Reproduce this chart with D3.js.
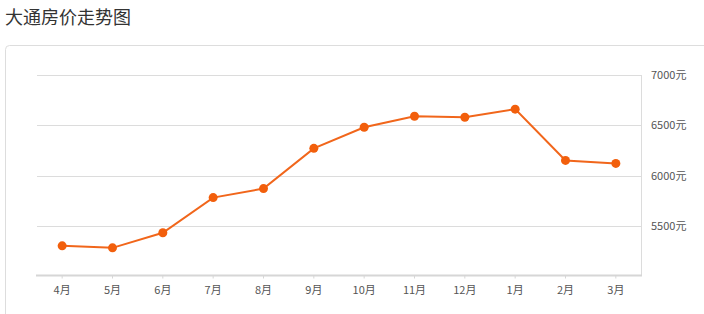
<!DOCTYPE html>
<html>
<head>
<meta charset="utf-8">
<script src="https://cdn.jsdelivr.net/npm/d3@7/dist/d3.min.js"></script>
<style>
html,body{margin:0;padding:0;background:#fff;overflow:hidden;}
svg{display:block;font-family:"Noto Sans CJK SC","Microsoft YaHei",sans-serif;}
</style>
</head>
<body>
<svg id="chart" width="704" height="314"></svg>
<script>
const title = "大通房价走势图";
const months = ["4月","5月","6月","7月","8月","9月","10月","11月","12月","1月","2月","3月"];
const prices = [5300,5280,5430,5780,5870,6270,6480,6590,6580,6660,6150,6120];
const yTicks = [5500,6000,6500,7000];
const unit = "元";

const svg = d3.select("#chart");

svg.append("text").attr("x",5).attr("y",24)
  .attr("font-size",18).attr("fill","#333").text(title);

svg.append("rect").attr("x",5.5).attr("y",45.5).attr("width",760).attr("height",320)
  .attr("rx",4).attr("fill","#fff").attr("stroke","#ddd");

const pLeft = 37, pRight = 641, pTop = 75, pBottom = 276;
const x = d3.scaleBand().domain(months).range([pLeft,pRight]);
const y = d3.scaleLinear().domain([5000,7000]).range([pBottom,pTop]);

// gridlines
svg.append("g").selectAll("line").data(yTicks).join("line")
  .attr("x1",pLeft).attr("x2",pRight)
  .attr("y1",d=>Math.round(y(d))+0.5).attr("y2",d=>Math.round(y(d))+0.5)
  .attr("stroke","#dcdcdc").attr("stroke-width",1);

// right vertical line
svg.append("line").attr("x1",pRight+0.5).attr("x2",pRight+0.5)
  .attr("y1",pTop).attr("y2",pBottom).attr("stroke","#dcdcdc");

// y axis labels
const yAxis = d3.axisRight(y).tickValues(yTicks).tickSize(0).tickPadding(10)
  .tickFormat(d=>d+unit);
const gy = svg.append("g").attr("transform",`translate(${pRight},0)`).call(yAxis);
gy.select(".domain").remove();
gy.selectAll("text").attr("font-size",11).attr("fill","#555")
  .attr("font-family","'Noto Sans CJK SC',sans-serif");

// x axis
const xAxis = d3.axisBottom(x).tickSize(3).tickPadding(8);
const gx = svg.append("g").attr("transform",`translate(0,${pBottom-0.5})`).call(xAxis);
gx.select(".domain").attr("stroke","#d6d6d6").attr("stroke-width",2)
  .attr("d",`M${pLeft-1},0H${pRight+1}`);
gx.selectAll(".tick line").attr("stroke","#d6d6d6");
gx.selectAll("text").attr("font-size",11).attr("fill","#555")
  .attr("font-family","'Noto Sans CJK SC',sans-serif");

// line
const cx = d=>x(d)+x.bandwidth()/2;
const line = d3.line().x((d,i)=>cx(months[i])).y(d=>y(d));
svg.append("path").datum(prices).attr("d",line)
  .attr("fill","none").attr("stroke","#f1661b").attr("stroke-width",2);

svg.append("g").selectAll("circle").data(prices).join("circle")
  .attr("cx",(d,i)=>cx(months[i])).attr("cy",d=>y(d)).attr("r",4.5)
  .attr("fill","#f25f0c");
</script>
</body>
</html>
